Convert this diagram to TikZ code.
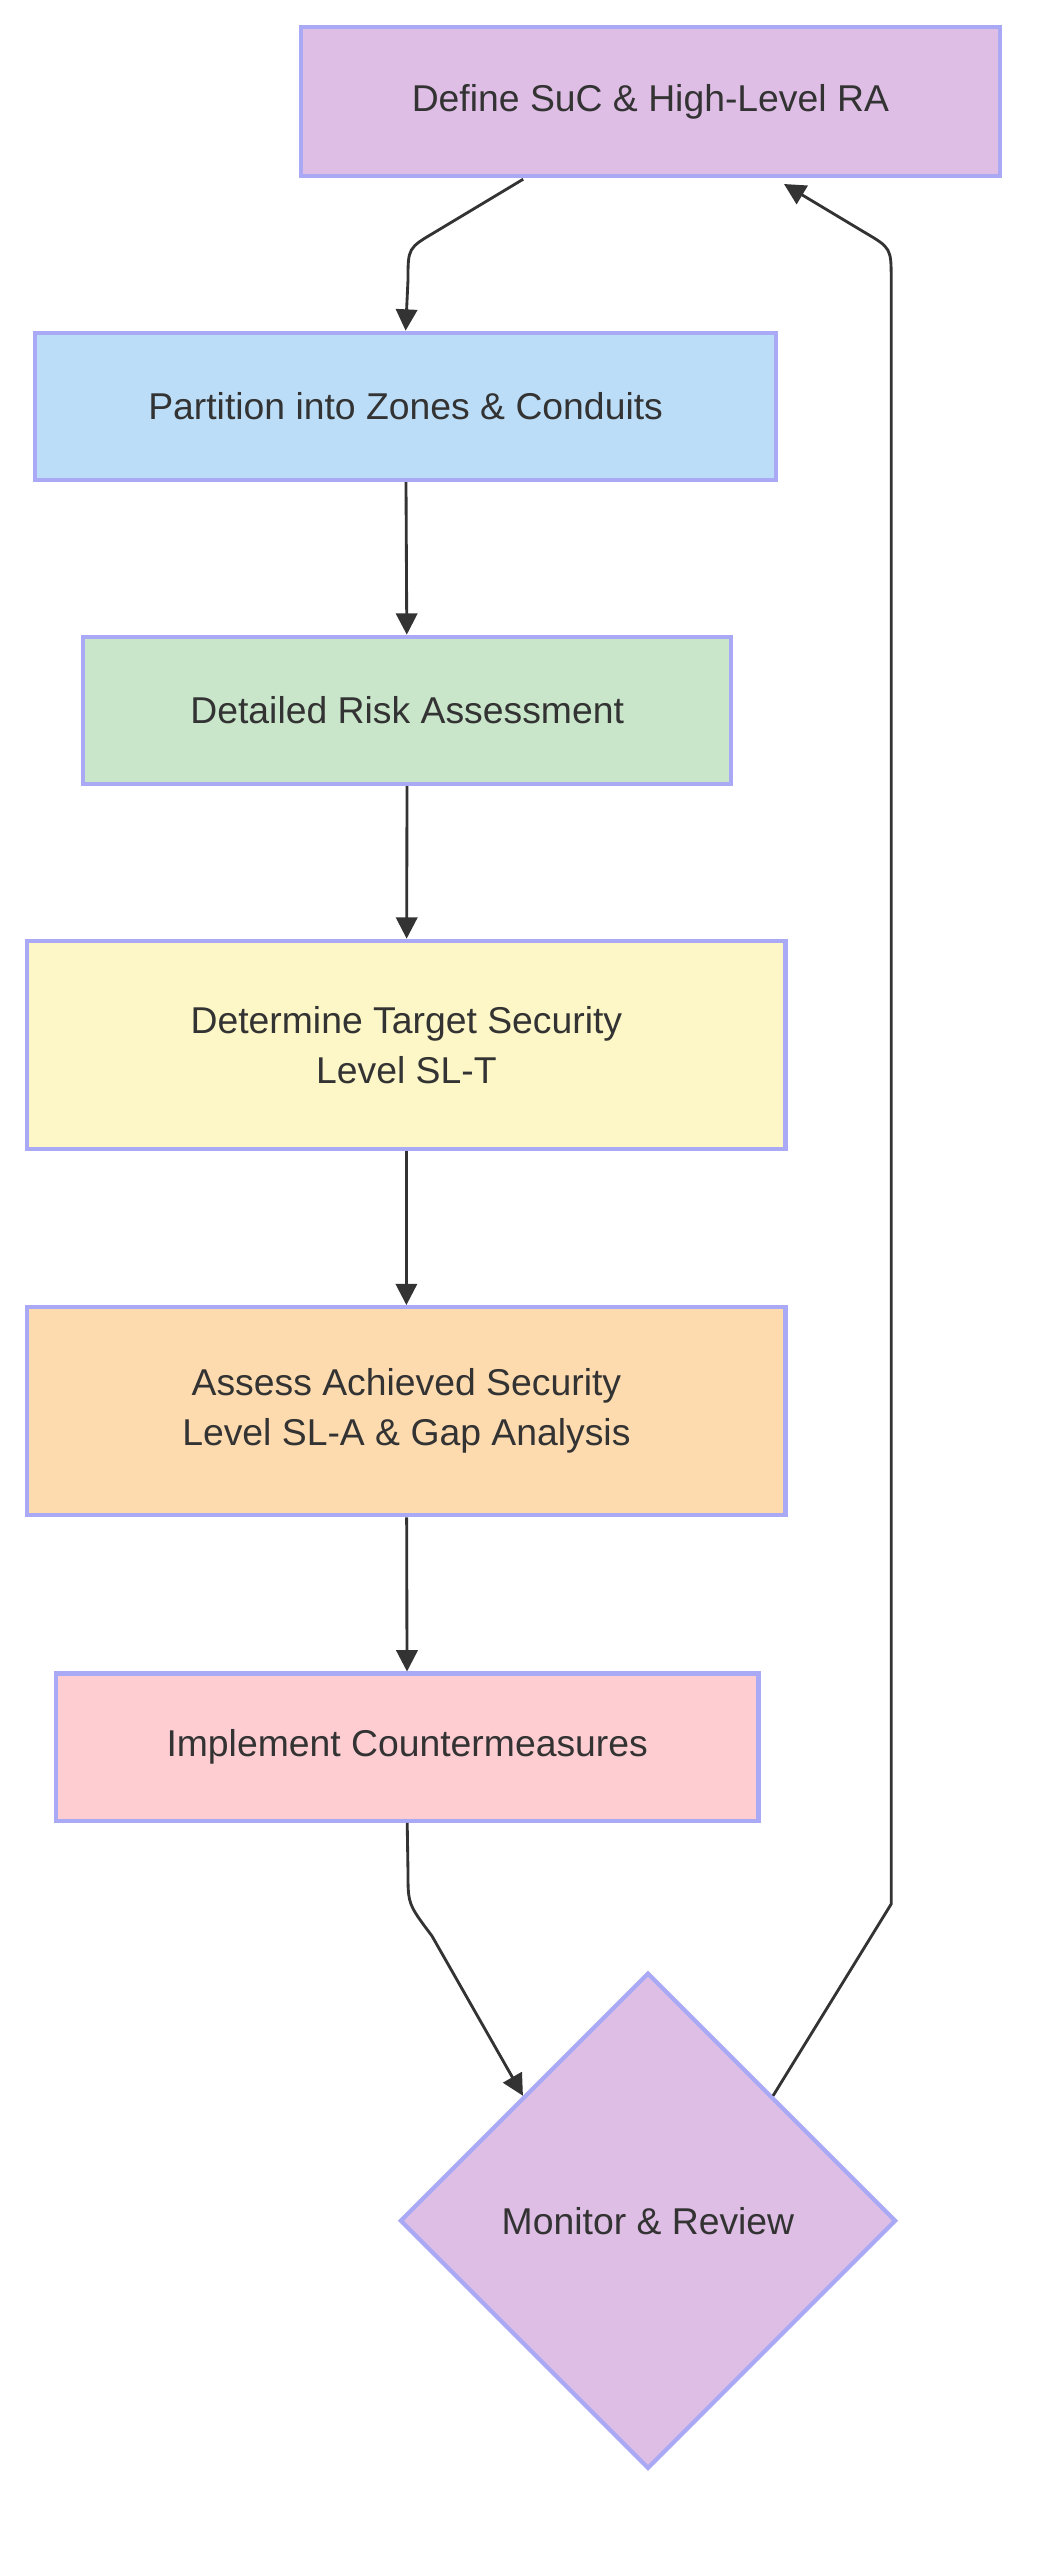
\documentclass[tikz,border=0pt]{standalone}
\usepackage{fontspec}
\setmainfont{Liberation Sans}
\usepackage{xcolor}
\usetikzlibrary{arrows.meta,shapes.geometric}
\definecolor{edgeblue}{HTML}{A9A9F5}
\definecolor{fillpurple}{HTML}{DFBEE6}
\definecolor{fillblue}{HTML}{BCDDF7}
\definecolor{fillgreen}{HTML}{C9E6CB}
\definecolor{fillyellow}{HTML}{FDF6C6}
\definecolor{fillorange}{HTML}{FDDBAE}
\definecolor{fillpink}{HTML}{FDCDD2}
\definecolor{inkgray}{HTML}{333333}
\begin{document}
\begin{tikzpicture}[x=0.45pt,y=-0.45pt,
  stage/.style={draw=edgeblue, line width=1.2pt, inner sep=0pt,
    font=\fontsize{10.5}{14}\selectfont, text=inkgray, align=center},
  flow/.style={-{Triangle[length=6pt,width=6pt]}, draw=inkgray, line width=0.8pt}
]
\useasboundingbox (0,0) rectangle (658,1600);
\node[stage, fill=fillpurple, minimum width=437*0.45pt, minimum height=93*0.45pt] (define) at (406.5,63.5) {Define SuC \& High-Level RA};
\node[stage, fill=fillblue, minimum width=463*0.45pt, minimum height=92*0.45pt] (zones) at (253.5,254) {Partition into Zones \& Conduits};
\node[stage, fill=fillgreen, minimum width=405*0.45pt, minimum height=92*0.45pt] (risk) at (254.5,444) {Detailed Risk Assessment};
\node[stage, fill=fillyellow, minimum width=474*0.45pt, minimum height=130*0.45pt] (target) at (254,653) {Determine Target Security\\Level SL-T};
\node[stage, fill=fillorange, minimum width=474*0.45pt, minimum height=130*0.45pt] (achieved) at (254,882) {Assess Achieved Security\\Level SL-A \& Gap Analysis};
\node[stage, fill=fillpink, minimum width=439*0.45pt, minimum height=92*0.45pt] (counter) at (254.5,1092) {Implement Countermeasures};
\node[stage, fill=fillpurple, diamond, minimum width=310*0.45pt, minimum height=310*0.45pt] (monitor) at (405,1388) {Monitor \& Review};

\coordinate (loopbot) at (557,1190);
\coordinate (looptop) at (557,175);
\coordinate (defin) at (490,115);

\draw[flow] (327,112) -- (272,145) .. controls (255,155) .. (255,175) -- (zones.north);
\draw[flow] (zones) -- (risk);
\draw[flow] (risk) -- (target);
\draw[flow] (target) -- (achieved);
\draw[flow] (achieved) -- (counter);
\draw[flow] (counter.south) -- (255,1170) .. controls (255,1190) .. (270,1210) -- (monitor.north west);
\draw[flow] (monitor.north east) -- (loopbot) -- (looptop) .. controls (557,155) .. (540,145) -- (defin);
\end{tikzpicture}
\end{document}
